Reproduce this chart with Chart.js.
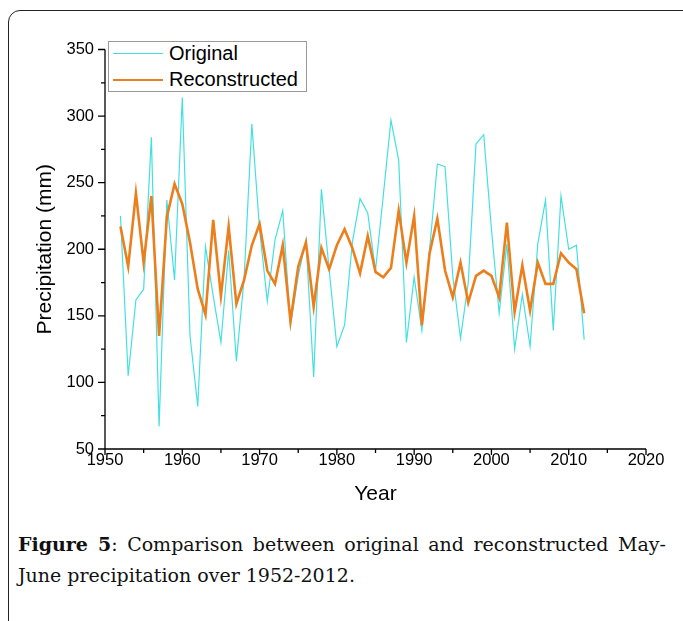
<!DOCTYPE html>
<html>
<head>
<meta charset="utf-8">
<script src="https://cdn.jsdelivr.net/npm/chart.js@4.4.1/dist/chart.umd.min.js"></script>
<style>
  html, body { margin: 0; padding: 0; background: #fff; }
  body { width: 683px; height: 621px; position: relative; overflow: hidden; }
  #marco {
    position: absolute; left: 8px; top: 10px; width: 720px; height: 700px;
    border: 1.5px solid #222; border-radius: 12px; box-sizing: border-box;
  }
  #lienzo { position: absolute; left: 0; top: 0; }
  #leyenda {
    position: absolute; left: 108px; top: 41px; width: 199px; height: 51px;
    border: 1px solid #999; box-sizing: border-box; background: #fff;
    font-family: "Liberation Sans", Arial, sans-serif; font-size: 20px; color: #000;
  }
  .item { position: absolute; left: 4px; height: 24px; line-height: 24px; white-space: nowrap; }
  .muestra { position: absolute; left: 0; width: 50px; }
  .item span { position: absolute; left: 56px; top: -1px; }
  #pie {
    position: absolute; left: 18px; top: 529px; width: 648px;
    font-family: "DejaVu Serif", "Liberation Serif", serif; font-size: 19px; line-height: 31px; color: #111;
  }
  #pie .l1 { text-align: justify; text-align-last: justify; white-space: nowrap; }
</style>
</head>
<body>
<div id="marco"></div>
<canvas id="lienzo" width="683" height="520"></canvas>
<div id="leyenda"></div>
<div id="pie">
  <div class="l1"><b>Figure 5</b>: Comparison between original and reconstructed May-</div>
  <div>June precipitation over 1952-2012.</div>
</div>
<script>
// Años de la serie
const anios = [1952, 1953, 1954, 1955, 1956, 1957, 1958, 1959, 1960, 1961,
  1962, 1963, 1964, 1965, 1966, 1967, 1968, 1969, 1970, 1971,
  1972, 1973, 1974, 1975, 1976, 1977, 1978, 1979, 1980, 1981,
  1982, 1983, 1984, 1985, 1986, 1987, 1988, 1989, 1990, 1991,
  1992, 1993, 1994, 1995, 1996, 1997, 1998, 1999, 2000, 2001,
  2002, 2003, 2004, 2005, 2006, 2007, 2008, 2009, 2010, 2011, 2012];

// Precipitación mayo-junio (mm)
const original = [225, 105, 162, 170, 284, 67, 237, 177, 314, 135,
  82, 202, 165, 130, 199, 116, 178, 294, 215, 161,
  207, 229, 143, 180, 207, 104, 245, 185, 127, 143,
  205, 238, 227, 184, 240, 297, 267, 130, 179, 139,
  200, 264, 262, 180, 133, 175, 279, 286, 215, 152,
  204, 125, 166, 127, 204, 237, 139, 240, 200, 203, 132];

const reconstruida = [217, 187, 242, 190, 240, 135, 224, 249, 234, 205,
  170, 151, 222, 165, 217, 159, 177, 203, 219, 184,
  174, 203, 146, 187, 205, 157, 201, 185, 203, 215,
  201, 182, 210, 183, 179, 186, 229, 190, 225, 143,
  197, 223, 184, 164, 190, 160, 180, 184, 180, 164,
  220, 153, 188, 154, 190, 174, 174, 197, 190, 185, 152];

const nombresSeries = ['Original', 'Reconstructed'];
const rangoX = [1950, 2020];
const rangoY = [50, 350];

const fuente = '"Liberation Sans", Arial, sans-serif';

function puntos(valores) {
  return anios.map((a, i) => ({ x: a, y: valores[i] }));
}

// Ejes con marcas mayores y menores hacia afuera
const marcasEjes = {
  id: 'marcasEjes',
  afterDraw(chart) {
    const ctx = chart.ctx;
    const sx = chart.scales.x;
    const sy = chart.scales.y;
    const area = chart.chartArea;
    ctx.save();
    ctx.strokeStyle = '#000';
    ctx.lineWidth = 1.3;
    ctx.beginPath();
    ctx.moveTo(area.left, area.top);
    ctx.lineTo(area.left, area.bottom);
    ctx.lineTo(area.right, area.bottom);
    for (let v = rangoX[0]; v <= rangoX[1]; v += 5) {
      const px = sx.getPixelForValue(v);
      const largo = (v % 10 === 0) ? 6 : 4;
      ctx.moveTo(px, area.bottom);
      ctx.lineTo(px, area.bottom + largo);
    }
    for (let v = rangoY[0]; v <= rangoY[1]; v += 25) {
      const py = sy.getPixelForValue(v);
      const largo = (v % 50 === 0) ? 7 : 4;
      ctx.moveTo(area.left, py);
      ctx.lineTo(area.left - largo, py);
    }
    ctx.stroke();
    ctx.restore();
  }
};

const grafico = new Chart(document.getElementById('lienzo'), {
  type: 'line',
  data: {
    datasets: [
      {
        label: nombresSeries[0],
        data: puntos(original),
        borderColor: '#44E0E0',
        borderWidth: 1.2,
        pointRadius: 0,
        tension: 0,
        order: 1
      },
      {
        label: nombresSeries[1],
        data: puntos(reconstruida),
        borderColor: '#EC7E1C',
        borderWidth: 2.6,
        pointRadius: 0,
        tension: 0,
        order: 0
      }
    ]
  },
  options: {
    responsive: false,
    animation: false,
    events: [],
    layout: { padding: { left: 0, top: 49.5, right: 37, bottom: 0 } },
    plugins: { legend: { display: false }, tooltip: { enabled: false } },
    scales: {
      x: {
        type: 'linear',
        min: rangoX[0],
        max: rangoX[1],
        grid: { display: false, drawTicks: false, tickLength: 0 },
        border: { display: false },
        ticks: { stepSize: 10, padding: 2, color: '#000', maxRotation: 0,
                  font: { family: fuente, size: 16.5 }, callback: v => String(v) },
        title: { display: true, text: 'Year', color: '#000',
                 font: { family: fuente, size: 21 }, padding: { top: 0, bottom: 13 } },
        afterFit: s => { s.height = 71; }
      },
      y: {
        min: rangoY[0],
        max: rangoY[1],
        grid: { display: false, drawTicks: false, tickLength: 0 },
        border: { display: false },
        ticks: { stepSize: 50, padding: 11, color: '#000',
                  font: { family: fuente, size: 16.5 } },
        title: { display: true, text: 'Precipitation (mm)', color: '#000',
                 font: { family: fuente, size: 21 }, padding: { top: 33, bottom: 0 } },
        afterFit: s => { s.width = 105; }
      }
    }
  },
  plugins: [marcasEjes]
});

// Leyenda en HTML dentro del área del gráfico
const leyenda = document.getElementById('leyenda');
grafico.data.datasets.forEach((ds, i) => {
  const item = document.createElement('div');
  item.className = 'item';
  item.style.top = (i === 0 ? 0 : 26) + 'px';
  const linea = document.createElement('div');
  linea.className = 'muestra';
  linea.style.top = (12 - ds.borderWidth / 2) + 'px';
  linea.style.borderTop = ds.borderWidth + 'px solid ' + ds.borderColor;
  const texto = document.createElement('span');
  texto.innerText = ds.label;
  item.appendChild(linea);
  item.appendChild(texto);
  leyenda.appendChild(item);
});
</script>
</body>
</html>
